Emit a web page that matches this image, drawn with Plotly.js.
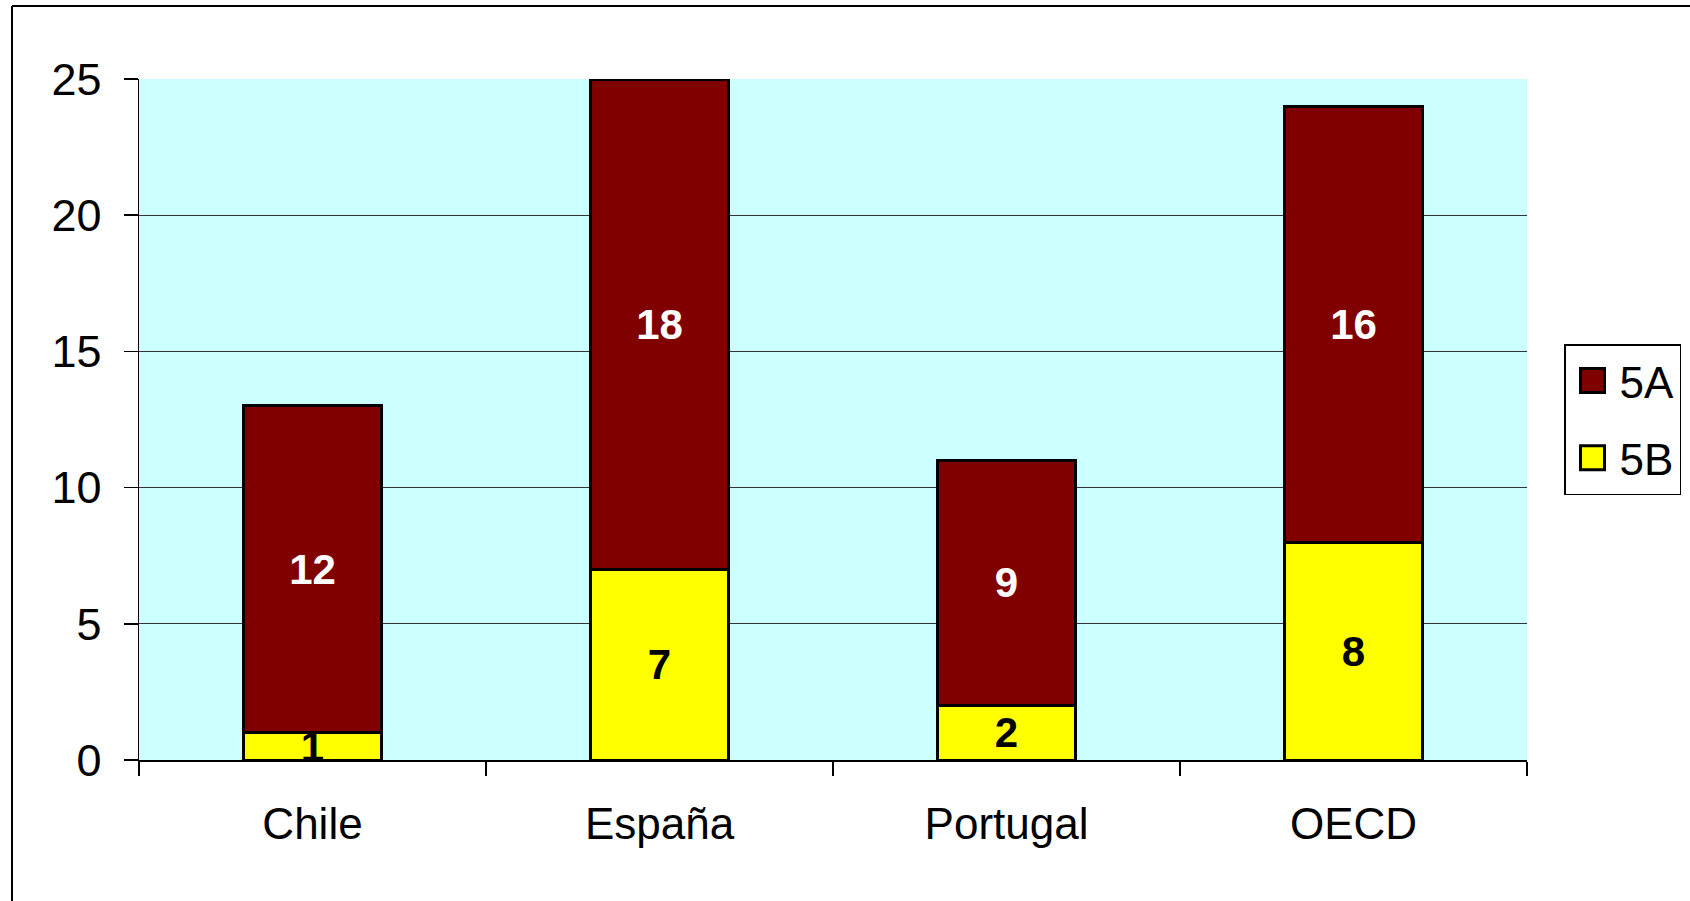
<!DOCTYPE html>
<html>
<head>
<meta charset="utf-8">
<script src="https://cdn.plot.ly/plotly-3.0.1.min.js"></script>
<style>
  html, body { margin: 0; padding: 0; background: #ffffff; }
  #chart { width: 1690px; height: 901px; }
</style>
</head>
<body>
<div id="chart"></div>
<script>
// ---- data ----
const categories = ["Chile", "España", "Portugal", "OECD"];
const values5B = [1, 7, 2, 8];
const values5A = [12, 18, 9, 16];
const seriesNames = ["5B", "5A"];
const yTickVals = [0, 5, 10, 15, 20, 25];

const W = 1690, H = 901;
const M = { l: 139, r: 163, t: 79, b: 141 };
const pw = W - M.l - M.r, ph = H - M.t - M.b;
const px = v => (v - M.l) / pw;           // pixel -> paper x
const py = v => 1 - (v - M.t) / ph;       // pixel -> paper y

const FONT = "Liberation Sans, Arial, Helvetica, sans-serif";

const traces = [
  {
    type: "bar",
    name: seriesNames[0],
    x: categories,
    y: values5B,
    legendgroup: "b",
    legendrank: 2,
    marker: { color: "#FFFF00", line: { color: "#000000", width: 3 } },
    texttemplate: "<b>%{y}</b>",
    textposition: "inside",
    insidetextanchor: "middle",
    constraintext: "none",
    textangle: 0,
    textfont: { family: FONT, size: 42, color: "#000000", weight: "bold" },
    hoverinfo: "x+y+name"
  },
  {
    type: "bar",
    name: seriesNames[1],
    x: categories,
    y: values5A,
    legendgroup: "a",
    legendrank: 1,
    marker: { color: "#800000", line: { color: "#000000", width: 3 } },
    texttemplate: "<b>%{y}</b>",
    textposition: "inside",
    insidetextanchor: "middle",
    constraintext: "none",
    textangle: 0,
    textfont: { family: FONT, size: 42, color: "#FFFFFF", weight: "bold" },
    hoverinfo: "x+y+name"
  }
];

const layout = {
  width: W,
  height: H,
  margin: M,
  barmode: "stack",
  bargap: 0.6,
  paper_bgcolor: "#FFFFFF",
  plot_bgcolor: "#CCFFFF",
  font: { family: FONT, size: 44, color: "#000000" },
  showlegend: true,
  legend: {
    xref: "container",
    yref: "container",
    x: 1564 / W,
    y: 1 - 344 / H,
    xanchor: "left",
    yanchor: "top",
    bgcolor: "#FFFFFF",
    bordercolor: "#000000",
    borderwidth: 1.5,
    traceorder: "grouped",
    tracegroupgap: 17,
    itemwidth: 44,
    font: { family: FONT, size: 44, color: "#000000" }
  },
  xaxis: {
    type: "category",
    showline: true,
    linecolor: "#000000",
    linewidth: 1.5,
    ticks: "outside",
    tickson: "boundaries",
    ticklen: 14,
    tickcolor: "#000000",
    tickwidth: 1.5,
    ticklabelstandoff: 25,
    showgrid: false,
    zeroline: false,
    tickfont: { family: FONT, size: 44, color: "#000000" }
  },
  yaxis: {
    range: [0, 25],
    tickvals: yTickVals,
    ticktext: yTickVals.map(String),
    showline: true,
    linecolor: "#000000",
    linewidth: 1.5,
    ticks: "outside",
    ticklen: 14,
    tickcolor: "#000000",
    tickwidth: 1.5,
    ticklabelstandoff: 13,
    showgrid: true,
    gridcolor: "#333333",
    gridwidth: 1,
    zeroline: false,
    tickfont: { family: FONT, size: 45, color: "#000000" }
  },
  shapes: [
    // outer chart frame (left and top edges visible)
    { type: "line", xref: "paper", yref: "paper",
      x0: px(12), x1: px(12), y0: py(6), y1: py(H + 10),
      line: { color: "#000000", width: 2 } },
    { type: "line", xref: "paper", yref: "paper",
      x0: px(12), x1: px(W + 10), y0: py(6), y1: py(6),
      line: { color: "#000000", width: 2 } }
  ]
};

Plotly.newPlot("chart", traces, layout, { displayModeBar: false, staticPlot: true })
  .then(() => {
    // enlarge the legend swatches to match the reference's larger squares
    document.querySelectorAll("#chart .legend .legendpoints path").forEach(p => {
      p.setAttribute("d", "M12,12H-12V-12H12Z");
      p.style.strokeWidth = "3px";
    });
  });
</script>
</body>
</html>
